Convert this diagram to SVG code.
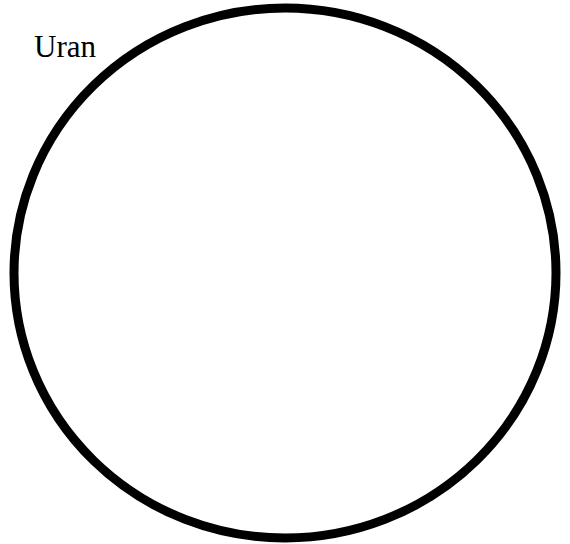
<svg xmlns="http://www.w3.org/2000/svg" width="570" height="544" viewBox="0 0 570 544">
<style>
.lbl{font-family:"Liberation Serif","Times New Roman",serif;font-size:31px;fill:#000}
.body{fill:none;stroke:#000;stroke-width:9}
</style>
<rect width="570" height="544" fill="#fff"/>
<g id="uran">
<ellipse class="body" cx="285" cy="273" rx="271" ry="265"/>
<text class="lbl" x="34" y="57">Uran</text>
</g>
</svg>
